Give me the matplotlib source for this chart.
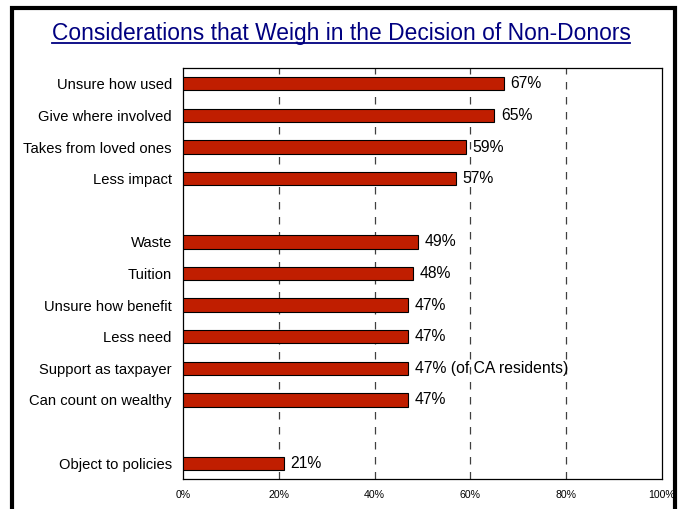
import matplotlib
matplotlib.use("Agg")
import matplotlib.pyplot as plt
from matplotlib.patches import Rectangle

categories = ["Unsure how used", "Give where involved", "Takes from loved ones", "Less impact",
              "Waste", "Tuition", "Unsure how benefit", "Less need", "Support as taxpayer",
              "Can count on wealthy", "Object to policies"]
values = [67, 65, 59, 57, 49, 48, 47, 47, 47, 47, 21]
value_labels = ["67%", "65%", "59%", "57%", "49%", "48%", "47%", "47%", "47% (of CA residents)", "47%", "21%"]
slots = [0, 1, 2, 3, 5, 6, 7, 8, 9, 10, 12]
xticks = [0, 20, 40, 60, 80, 100]
xtick_labels = ["0%", "20%", "40%", "60%", "80%", "100%"]
title = "Considerations that Weigh in the Decision of Non-Donors"

plt.rcParams['font.family'] = ['Liberation Sans', 'DejaVu Sans']

fig = plt.figure(figsize=(6.82, 5.09), dpi=100)
ax = fig.add_axes([0.2683, 0.0589, 0.7023, 0.8075])

ax.barh(slots, values, height=0.42, color="#C01E00", edgecolor="black", linewidth=0.8, zorder=3)
for s, v, lab in zip(slots, values, value_labels):
    ax.text(v + 1.4, s, lab, va="center", ha="left", fontsize=11.3, color="black", zorder=2)

ax.set_xlim(0, 100)
ax.set_ylim(12.5, -0.5)
ax.set_yticks(slots)
ax.set_yticklabels(categories, fontsize=10.6)
ax.set_xticks(xticks)
ax.set_xticklabels(xtick_labels, fontsize=7.6)
ax.tick_params(axis="both", length=0)
ax.tick_params(axis="y", pad=8)
ax.tick_params(axis="x", pad=8)
for x in xticks[1:-1]:
    ax.axvline(x, color="#404040", linestyle=(0, (6, 6)), linewidth=0.9, zorder=1)
for sp in ax.spines.values():
    sp.set_linewidth(0.9)
    sp.set_color("black")

fig.text(0.5, 1 - 40 / 509, title, ha="center", va="baseline", fontsize=16.4, color="#000080")
fig.lines.append(plt.Line2D([52 / 682, 630 / 682], [1 - 43 / 509, 1 - 43 / 509],
                            transform=fig.transFigure, color="#000080", linewidth=1.3))

fig.patches.append(Rectangle((0.0175, -0.1), 0.972, 1.084, transform=fig.transFigure,
                             fill=False, edgecolor="black", linewidth=3))

fig.savefig("out.png", dpi=100)
